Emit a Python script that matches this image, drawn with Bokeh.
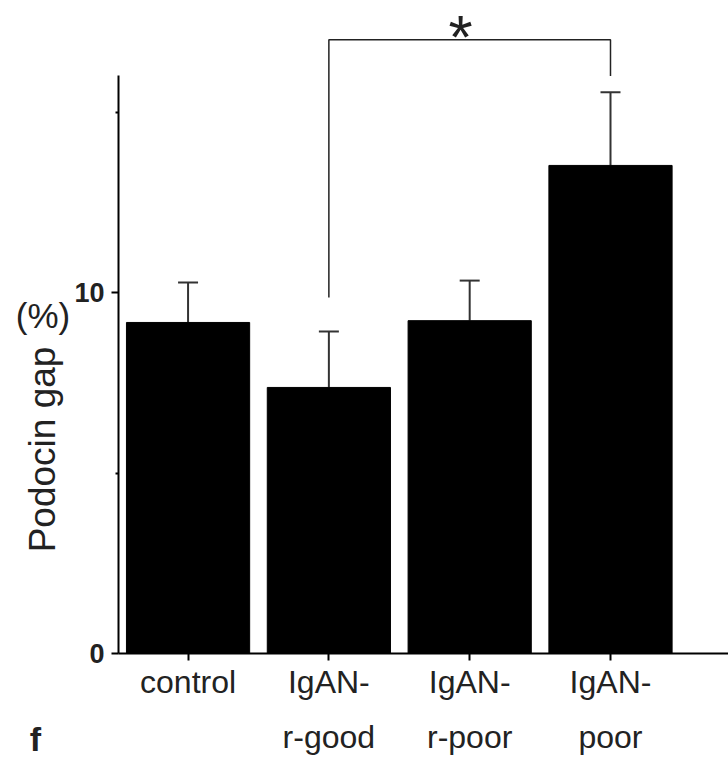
import math
from bokeh.plotting import figure
from bokeh.layouts import row
from bokeh.models import (Range1d, FixedTicker, LinearAxis, Whisker, TeeHead,
                          ColumnDataSource)
from bokeh.core.properties import value
from bokeh.embed import file_html
from bokeh.resources import INLINE

# ---- data ----
groups = ["control", "IgAN-r-good", "IgAN-r-poor", "IgAN-poor"]
label_line1 = ["control", "IgAN-", "IgAN-", "IgAN-"]
label_line2 = ["", "r-good", "r-poor", "poor"]
means = [9.17, 7.37, 9.22, 13.52]
errors = [1.11, 1.55, 1.11, 2.03]
y_ticks = [0, 10]
y_minor_ticks = [5, 15]
y_title = "Podocin gap"
y_unit = "(%)"
panel_letter = "f"
sig_pair = (2, 4)          # IgAN-r-good vs IgAN-poor (1-based positions)
sig_text = "*"
bracket_top = 17.0
bracket_left_bottom = 9.86
bracket_right_bottom = 16.0

FONT = "Liberation Sans"
TXT = "#222222"
W, H = 728, 762
LEFT_W = 70
FRAME_BOTTOM = 653

xs = [i + 1 for i in range(len(groups))]
src = ColumnDataSource(dict(
    x=xs, top=means,
    hi=[m + e for m, e in zip(means, errors)],
))

# ---- left strip holding the y title, unit and panel letter ----
side = figure(width=LEFT_W, height=H, output_backend="svg", toolbar_location=None,
              x_range=Range1d(0, LEFT_W), y_range=Range1d(FRAME_BOTTOM, 0),
              y_axis_location=None, min_border=0)
side.outline_line_color = None
side.xgrid.visible = False
side.ygrid.visible = False
sx = side.xaxis[0]
sx.ticker = FixedTicker(ticks=[])
sx.axis_line_color = None
sx.major_tick_line_color = None
sx.minor_tick_line_color = None
sx.axis_label = panel_letter
sx.axis_label_text_font = FONT
sx.axis_label_text_font_style = "bold"
sx.axis_label_text_font_size = "34px"
sx.axis_label_text_color = TXT
sx.axis_label_standoff = 66

side.text(x=[42], y=[449], text=[y_title], angle=math.pi / 2,
          text_font=value(FONT), text_font_size="37px", text_color=TXT,
          text_align="center", text_baseline="middle")
side.text(x=[42.5], y=[315], text=[y_unit], text_font=value(FONT),
          text_font_size="35px", text_color=TXT,
          text_align="center", text_baseline="middle")

# ---- main chart ----
p = figure(width=W - LEFT_W, height=H, output_backend="svg", toolbar_location=None,
           x_range=Range1d(0.506, 4.838), y_range=Range1d(0, FRAME_BOTTOM / 36.1),
           min_border_left=118 - LEFT_W, min_border_right=0, min_border_top=0,
           min_border_bottom=H - FRAME_BOTTOM)
p.outline_line_color = None
p.xgrid.visible = False
p.ygrid.visible = False

p.vbar(x="x", top="top", width=0.875, source=src, color="black")

wh = Whisker(base="x", lower="top", upper="hi", source=src, dimension="height",
             line_width=2, line_color="#333333",
             upper_head=TeeHead(size=20, line_width=2, line_color="#333333"),
             lower_head=None)
p.add_layout(wh)

# significance bracket
a, b = sig_pair
p.line(x=[a, a, b, b], y=[bracket_left_bottom, bracket_top, bracket_top, bracket_right_bottom],
       line_width=1.5, line_color="#222222")
p.text(x=[(a + b) / 2 - 0.065], y=[18.05], text=[sig_text], text_font=value(FONT),
       text_font_size="62px", text_align="center", text_baseline="top",
       text_color=TXT)

# y axis
ya = p.yaxis[0]
ya.ticker = FixedTicker(ticks=y_ticks, minor_ticks=y_minor_ticks)
ya.bounds = (0, 16)
ya.axis_line_width = 2
ya.axis_line_color = "black"
ya.major_tick_out = 7
ya.major_tick_in = 0
ya.major_tick_line_width = 2
ya.minor_tick_out = 3
ya.minor_tick_in = 0
ya.minor_tick_line_width = 2
ya.major_label_text_font = FONT
ya.major_label_text_font_style = "bold"
ya.major_label_text_font_size = "27px"
ya.major_label_text_color = TXT
ya.major_label_standoff = 7

# x axis (first line of labels)
xa = p.xaxis[0]
xa.ticker = FixedTicker(ticks=xs)
xa.major_label_overrides = {x: t for x, t in zip(xs, label_line1)}
xa.axis_line_width = 2
xa.axis_line_color = "black"
xa.major_tick_out = 7
xa.major_tick_in = 0
xa.major_tick_line_width = 2
xa.minor_tick_line_color = None
xa.major_label_text_font = FONT
xa.major_label_text_font_size = "32px"
xa.major_label_text_color = TXT
xa.major_label_standoff = 3

# second line of x labels
xa2 = LinearAxis(ticker=FixedTicker(ticks=xs),
                 major_label_overrides={x: t for x, t in zip(xs, label_line2)},
                 axis_line_color=None, major_tick_line_color=None,
                 minor_tick_line_color=None, major_tick_out=0, major_tick_in=0,
                 major_label_text_font=FONT, major_label_text_font_size="32px",
                 major_label_text_color=TXT, major_label_standoff=16)
p.add_layout(xa2, "below")

layout = row(side, p, spacing=0)
open("out.html", "w").write(file_html(layout, INLINE))
